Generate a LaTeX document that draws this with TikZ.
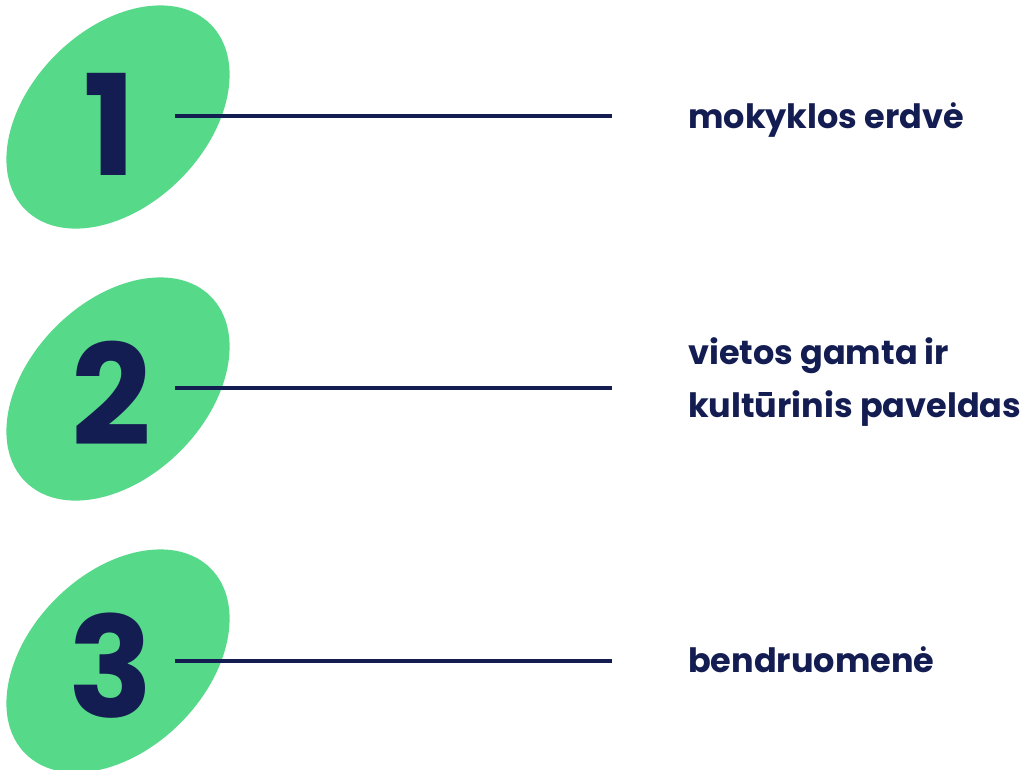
\documentclass[tikz,border=0pt]{standalone}
\usepackage{fontspec}
\setmainfont{Poppins}
\newfontfamily\numfont{Poppins}
\definecolor{navy}{HTML}{131D52}
\definecolor{mint}{HTML}{57D98A}
\begin{document}
\begin{tikzpicture}[x=1pt,y=-1pt,
  blob/.style={fill=mint,draw=none},
  num/.style={text=navy,font=\numfont\bfseries\fontsize{140}{140}\selectfont,inner sep=0pt},
  link/.style={draw=navy,line width=3.2pt},
  lbl/.style={text=navy,font=\bfseries\fontsize{33.5}{53}\selectfont,align=left,inner sep=0pt}]
\useasboundingbox (0,0) rectangle (1025,769);
\foreach \i/\y in {1/117,2/389,3/661}{
  \fill[blob,rotate around={45:(118,\y)}] (118,\y) ellipse [x radius=131,y radius=88];
}
\node[num,anchor=base] (n1) at (110,175) {1};
\node[num,anchor=base] (n2) at (111,445) {2};
\node[num,anchor=base] (n3) at (111,717) {3};
\coordinate (a1) at (175,116); \coordinate (b1) at (612,116);
\coordinate (a2) at (175,388); \coordinate (b2) at (612,388);
\coordinate (a3) at (175,661); \coordinate (b3) at (612,661);
\draw[link] (a1) -- (b1);
\draw[link] (a2) -- (b2);
\draw[link] (a3) -- (b3);
\node[lbl,anchor=base west] (t1) at (688,128) {mokyklos erdvė};
\node[lbl,anchor=west] (t2) at (688,382) {vietos gamta ir\\kultūrinis paveldas};
\node[lbl,anchor=base west] (t3) at (688,672) {bendruomenė};
\end{tikzpicture}
\end{document}
